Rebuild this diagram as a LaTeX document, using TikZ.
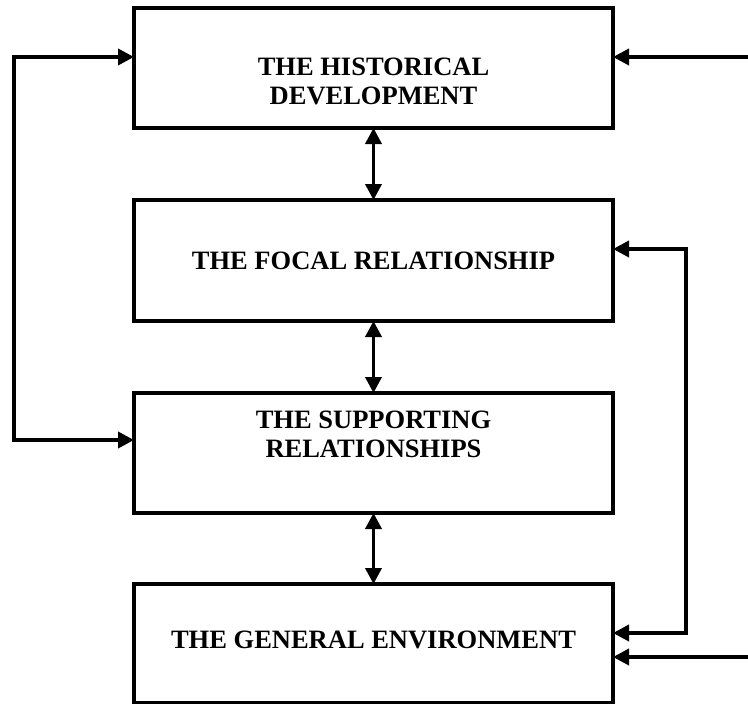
\documentclass[tikz,border=0pt]{standalone}
\usepackage{fontspec}
\setmainfont{Liberation Serif}
\usetikzlibrary{arrows.meta}
\begin{document}
\begin{tikzpicture}[x=1pt,y=-1pt,
  box/.style={draw=black,line width=3.6pt,minimum width=479pt,inner sep=0pt,outer sep=0pt},
  lbl/.style={align=center,inner sep=0pt,font=\bfseries\fontsize{26.5}{29}\selectfont},
  conn/.style={line width=3.6pt,line join=miter,
    arrows={-{Triangle[length=16pt,width=16pt]}}},
  dconn/.style={line width=3.6pt,line join=miter,
    arrows={{Triangle[length=16pt,width=16pt]}-{Triangle[length=16pt,width=16pt]}}}]
\useasboundingbox (0,0) rectangle (748,704);
% boxes
\node[box,minimum height=120pt] (b1) at (373.5,68) {};
\node[box,minimum height=121pt] (b2) at (373.5,260.5) {};
\node[box,minimum height=120pt] (b3) at (373.5,453) {};
\node[box,minimum height=119pt] (b4) at (373.5,643.5) {};
% labels
\node[lbl] (t1) at (373.5,81) {THE HISTORICAL\\DEVELOPMENT};
\node[lbl] (t2) at (373.5,260.5) {THE FOCAL RELATIONSHIP};
\node[lbl] (t3) at (373.5,434.5) {THE SUPPORTING\\RELATIONSHIPS};
\node[lbl] (t4) at (373.5,640) {THE GENERAL ENVIRONMENT};
% vertical double arrows
\draw[dconn] (b1.south) -- (b2.north);
\draw[dconn] (b2.south) -- (b3.north);
\draw[dconn] (b3.south) -- (b4.north);
% left loop
\coordinate (lt) at (14,57);
\coordinate (lb) at (14,440);
\draw[dconn] (lt -| b1.west) -- (lt) -- (lb) -- (lb -| b3.west);
% right loop
\coordinate (rt) at (686,249);
\coordinate (rb) at (686,633);
\draw[dconn] (rt -| b2.east) -- (rt) -- (rb) -- (rb -| b4.east);
% external inputs
\coordinate (e1) at (748,57);
\coordinate (e4) at (748,657);
\draw[conn] (e1) -- (e1 -| b1.east);
\draw[conn] (e4) -- (e4 -| b4.east);
\end{tikzpicture}
\end{document}
